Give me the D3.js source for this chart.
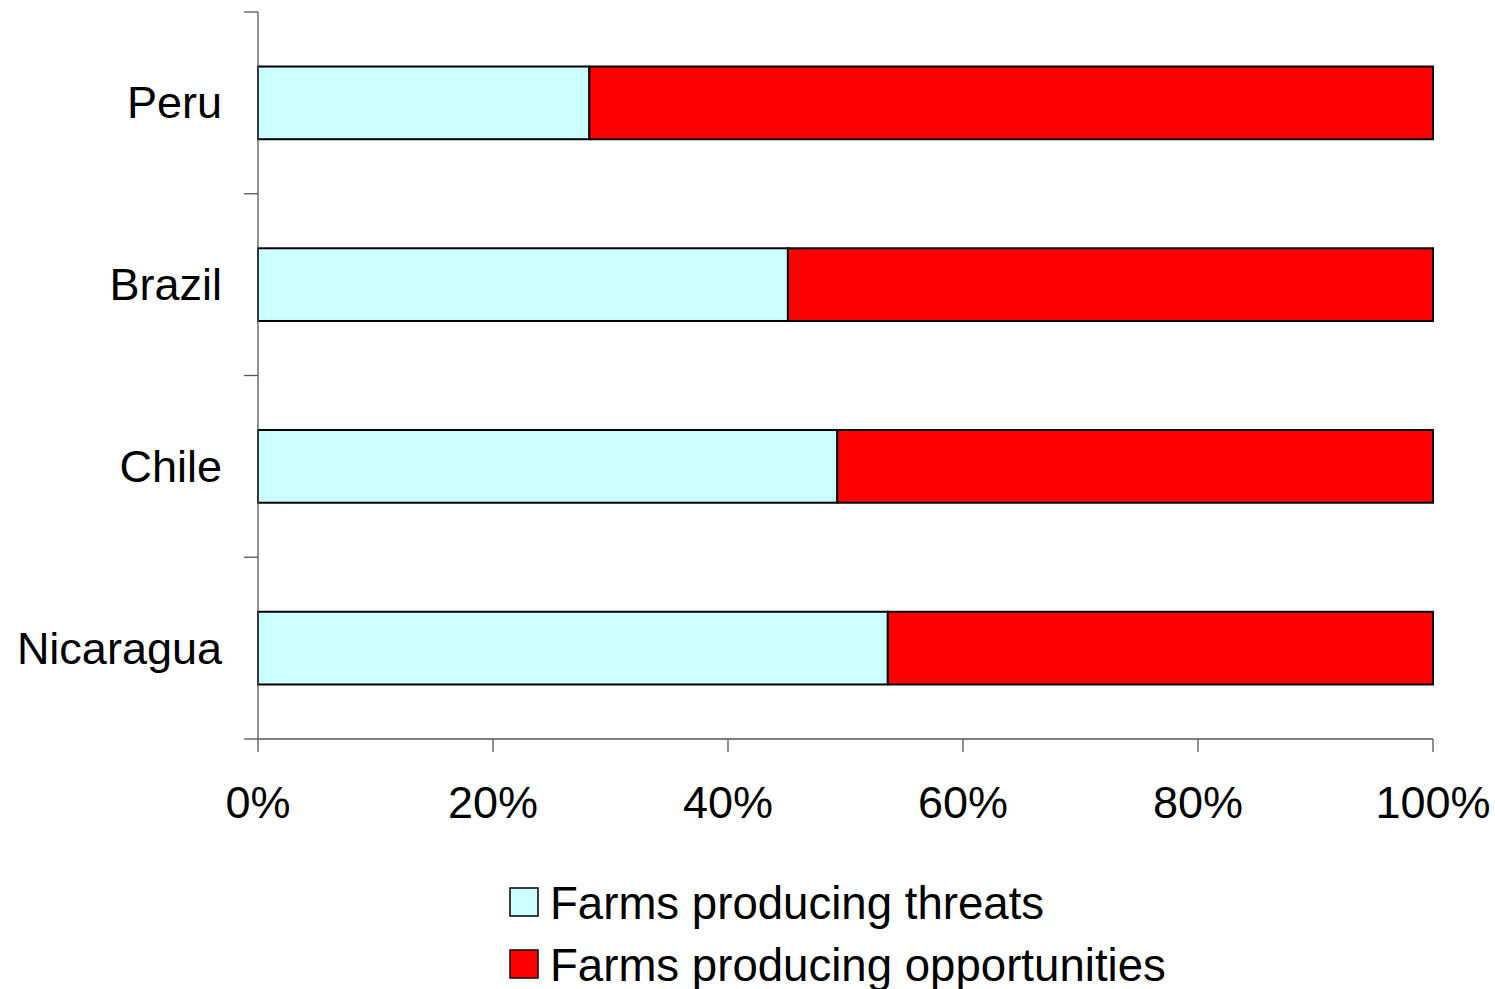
<!DOCTYPE html>
<html>
<head>
<meta charset="utf-8">
<script src="https://cdn.jsdelivr.net/npm/d3@7"></script>
<style>
html,body{margin:0;padding:0;background:#fff;}
svg text{font-family:"Liberation Sans",Arial,sans-serif;fill:#000;}
</style>
</head>
<body>
<svg id="chart" width="1495" height="989"></svg>
<script>
const categories = ["Peru", "Brazil", "Chile", "Nicaragua"];
const threats = [28.2, 45.1, 49.3, 53.6];
const opportunities = [71.8, 54.9, 50.7, 46.4];
const seriesNames = ["Farms producing threats", "Farms producing opportunities"];
const seriesColors = ["#ccffff", "#ff0000"];
const xTicks = [0, 20, 40, 60, 80, 100];

(function () {
const svg = d3.select("#chart");
const pLeft = 258, pRight = 1433, pTop = 12, pBottom = 739;

const x = d3.scaleLinear().domain([0, 100]).range([pLeft, pRight]);
const y = d3.scaleBand().domain(categories).range([pTop, pBottom]).paddingInner(0.6).paddingOuter(0.3);
const yb = d3.scaleBand().domain(categories).range([pTop, pBottom]);

const rows = categories.map((c, i) => {
  const tot = threats[i] + opportunities[i];
  return {c, vals: [threats[i] / tot * 100, opportunities[i] / tot * 100]};
});

// bars
rows.forEach(r => {
  let acc = 0;
  r.vals.forEach((v, j) => {
    svg.append("rect")
      .attr("x", x(acc)).attr("y", y(r.c))
      .attr("width", x(acc + v) - x(acc)).attr("height", y.bandwidth())
      .attr("fill", seriesColors[j]).attr("stroke", "#000").attr("stroke-width", 2);
    acc += v;
  });
});

// y axis
const axisColor = "#555";
svg.append("line").attr("x1", pLeft).attr("x2", pLeft).attr("y1", pTop).attr("y2", pBottom)
  .attr("stroke", axisColor).attr("stroke-width", 1.3);
const yTickPos = categories.map(c => yb(c)).concat([pBottom]);
yTickPos.forEach(p => {
  svg.append("line").attr("x1", pLeft - 14).attr("x2", pLeft).attr("y1", p).attr("y2", p)
    .attr("stroke", axisColor).attr("stroke-width", 1.3);
});
categories.forEach(c => {
  svg.append("text").attr("x", 222).attr("y", yb(c) + yb.bandwidth() / 2)
    .attr("text-anchor", "end").attr("dominant-baseline", "central")
    .attr("font-size", 45).text(c);
});

// x axis
svg.append("line").attr("x1", pLeft).attr("x2", pRight).attr("y1", pBottom).attr("y2", pBottom)
  .attr("stroke", axisColor).attr("stroke-width", 1.3);
xTicks.forEach(t => {
  svg.append("line").attr("x1", x(t)).attr("x2", x(t)).attr("y1", pBottom).attr("y2", pBottom + 13)
    .attr("stroke", axisColor).attr("stroke-width", 1.3);
  svg.append("text").attr("x", x(t)).attr("y", 818).attr("text-anchor", "middle")
    .attr("font-size", 45).text(t + "%");
});

// legend
seriesNames.forEach((n, i) => {
  const ly = 888 + i * 62;
  svg.append("rect").attr("x", 510).attr("y", ly).attr("width", 28).attr("height", 28)
    .attr("fill", seriesColors[i]).attr("stroke", "#000").attr("stroke-width", 1.5);
  svg.append("text").attr("x", 550).attr("y", ly + 31).attr("font-size", 45.6).text(n);
});
})();
</script>
</body>
</html>
